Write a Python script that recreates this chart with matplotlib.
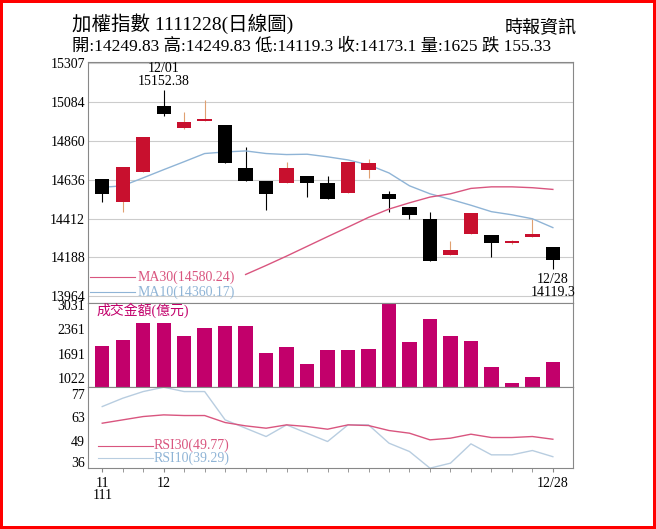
import numpy as np
import matplotlib.pyplot as plt

plt.rcParams['font.family'] = ['Liberation Serif', 'Noto Sans CJK TC']

# daily candles
opens = [14638, 14508, 14679, 15061, 14935, 14976, 14954, 14703, 14629, 14620, 14657, 14620,
         14558, 14694, 14555, 14480, 14412, 14205, 14322, 14317, 14270, 14308, 14249.83]
closes = [14555, 14712, 14880, 15015, 14969, 14985, 14731, 14629, 14555, 14703, 14616, 14523,
          14740, 14735, 14527, 14434, 14170, 14230, 14443, 14270, 14285, 14326, 14173.1]
highs = [14638, 14712, 14880, 15152.38, 15028, 15093, 14954, 14824, 14629, 14740, 14657, 14657,
         14740, 14755, 14573, 14480, 14452, 14285, 14443, 14317, 14290, 14412, 14249.83]
lows = [14508, 14452, 14679, 15004, 14930, 14976, 14731, 14629, 14462, 14620, 14536, 14523,
        14558, 14647, 14452, 14412, 14170, 14205, 14322, 14192, 14265, 14308, 14119.3]
ma10 = [14592, 14601, 14647, 14694, 14740, 14787, 14796, 14802, 14787, 14781, 14783, 14768,
        14750, 14722, 14675, 14601, 14555, 14523, 14489, 14452, 14434, 14411, 14360.17]
ma30 = [None] * 7 + [14090, 14142, 14196, 14252, 14308, 14363, 14419, 14467, 14503, 14536,
                     14555, 14586, 14595, 14595, 14590, 14580.24]
volume = [1910, 2075, 2535, 2535, 2185, 2397, 2441, 2441, 1710, 1864, 1407, 1800,
          1800, 1828, 3065, 2001, 2645, 2166, 2048, 1341, 901, 1050, 1462]
rsi10 = [69.4, 74.4, 78.4, 81, 78.4, 78.4, 61.4, 56.4, 51.4, 58.4, 53.4, 48.4,
         58.4, 58.4, 47.4, 42.4, 32.4, 35.4, 47, 40.4, 40.4, 43, 39.29]
rsi30 = [59.4, 61.4, 63.4, 64.4, 64, 64, 59.8, 57.8, 56.4, 58.4, 57.4, 55.8,
         58.4, 58, 55, 53.4, 49.4, 50.4, 52.8, 50.8, 50.8, 51.4, 49.77]
price_ticks = [13964, 14188, 14412, 14636, 14860, 15084, 15307]
vol_ticks = [1022, 1691, 2361, 3031]
rsi_ticks = [36, 49, 63, 77]

x = np.arange(len(opens))
up_col = '#c8102e'
red_ma = '#d9557f'
blue_ma = '#8fb4d6'
mag = '#c2006b'

fig = plt.figure(figsize=(6.56, 5.29), dpi=100)
fig.patch.set_edgecolor('red')
fig.patch.set_linewidth(4)

L, W = 0.134, 0.74
ax = fig.add_axes([L, 0.427, W, 0.456])
axv = fig.add_axes([L, 0.268, W, 0.159], sharex=ax)
axr = fig.add_axes([L, 0.115, W, 0.153], sharex=ax)

for i in x:
    up = closes[i] >= opens[i]
    c = up_col if up else 'black'
    ax.vlines(i, lows[i], highs[i], color='#e0a070' if up else 'black', lw=0.8, zorder=2)
    lo, hi = min(opens[i], closes[i]), max(opens[i], closes[i])
    ax.bar(i, max(hi - lo, 8), bottom=lo, width=0.7, color=c, zorder=3)
ax.plot(x, ma10, color=blue_ma, lw=1)
ma30_arr = np.array([np.nan if v is None else v for v in ma30])
ax.plot(x, ma30_arr, color=red_ma, lw=1)
ax.set_ylim(13925, 15315)
ax.set_yticks(price_ticks)
ax.grid(axis='y', color='#cccccc', lw=0.8)
ax.plot([-0.6, 1.6], [14075, 14075], color=red_ma, lw=0.8)
ax.plot([-0.6, 1.6], [13990, 13990], color=blue_ma, lw=0.8)
ax.text(1.7, 14075, 'MA30(14580.24)', color=red_ma, fontsize=10, va='center')
ax.text(1.7, 13990, 'MA10(14360.17)', color=blue_ma, fontsize=10, va='center')
ax.text(3, 15165, '12/01\n15152.38', ha='center', va='bottom', fontsize=10, linespacing=1.0)
ax.text(22, 14100, '12/28\n14119.3', ha='center', va='top', fontsize=10, linespacing=1.0)

axv.bar(x, volume, width=0.7, color=mag, bottom=0)
axv.set_ylim(774, 3080)
axv.set_yticks(vol_ticks)
axv.text(-0.3, 2880, '成交金額(億元)', color=mag, fontsize=10, va='center')

axr.plot(x, rsi10, color='#b8cde0', lw=1)
axr.plot(x, rsi30, color=red_ma, lw=1)
axr.set_ylim(32.4, 81)
axr.set_yticks(rsi_ticks)
axr.plot([-0.2, 2.5], [46, 46], color=red_ma, lw=0.8)
axr.plot([-0.2, 2.5], [38.5, 38.5], color='#b8cde0', lw=0.8)
axr.text(2.5, 46, 'RSI30(49.77)', color=red_ma, fontsize=10, va='center')
axr.text(2.5, 38.5, 'RSI10(39.29)', color=blue_ma, fontsize=10, va='center')

for a in (ax, axv, axr):
    a.set_xlim(-0.7, 23)
    a.tick_params(axis='y', length=0, labelsize=10, pad=2)
    for s in a.spines.values():
        s.set_color('#888888')
for a in (ax, axv):
    a.tick_params(axis='x', bottom=False, labelbottom=False)
axr.set_xticks([0, 3, 22])
axr.set_xticklabels(['11\n111', '12', '12/28'], fontsize=10, linespacing=0.9)
axr.set_xticks(x, minor=True)
axr.tick_params(axis='x', which='both', length=3, color='#888888')

fig.text(0.11, 0.955, '加權指數 1111228(日線圖)', fontsize=14, va='center')
fig.text(0.77, 0.948, '時報資訊', fontsize=13, va='center')
fig.text(0.11, 0.912, '開:14249.83 高:14249.83 低:14119.3 收:14173.1 量:1625 跌 155.33',
         fontsize=12.5, va='center')

fig.savefig('out.png', dpi=100, edgecolor=fig.get_edgecolor())
